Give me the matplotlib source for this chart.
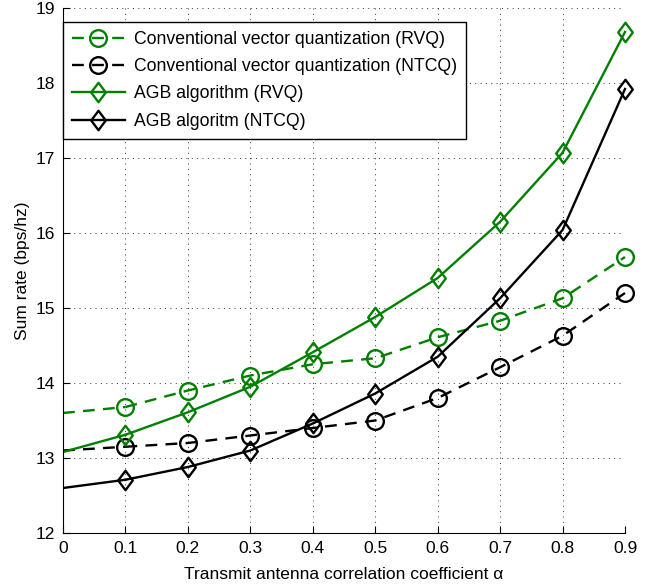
import matplotlib.pyplot as plt
import numpy as np
from matplotlib.path import Path

plt.rcParams['font.family'] = ['Liberation Sans', 'DejaVu Sans']

alpha = [0, 0.1, 0.2, 0.3, 0.4, 0.5, 0.6, 0.7, 0.8, 0.9]
conv_rvq = [13.6, 13.68, 13.9, 14.1, 14.25, 14.33, 14.61, 14.83, 15.13, 15.68]
conv_ntcq = [13.1, 13.15, 13.2, 13.3, 13.4, 13.5, 13.8, 14.21, 14.63, 15.2]
agb_rvq = [13.08, 13.31, 13.61, 13.95, 14.41, 14.88, 15.4, 16.15, 17.07, 18.68]
agb_ntcq = [12.6, 12.71, 12.88, 13.1, 13.46, 13.86, 14.35, 15.13, 16.04, 17.92]

labels = ["Conventional vector quantization (RVQ)",
          "Conventional vector quantization (NTCQ)",
          "AGB algorithm (RVQ)",
          "AGB algoritm (NTCQ)"]

green = '#008000'
lw = 1.7
# wider diamond than matplotlib's 'd'
diamond = Path([(0, 1), (0.75, 0), (0, -1), (-0.75, 0), (0, 1)],
               [Path.MOVETO, Path.LINETO, Path.LINETO, Path.LINETO, Path.CLOSEPOLY])

fig = plt.figure(figsize=(6.55, 5.88), dpi=100)
ax = fig.add_axes([63/655, 55/588, 562/655, 525/588])

dash = (0, (5, 3.5))
ax.plot(alpha[1:], conv_rvq[1:], color=green, ls=dash, lw=lw, marker='o', ms=12,
        mfc='none', mew=lw, clip_on=False, label=labels[0])
ax.plot(alpha[1:], conv_ntcq[1:], color='black', ls=dash, lw=lw, marker='o', ms=12,
        mfc='none', mew=lw, clip_on=False, label=labels[1])
ax.plot(alpha[1:], agb_rvq[1:], color=green, lw=lw, marker=diamond, ms=14,
        mfc='none', mew=lw, clip_on=False, label=labels[2])
ax.plot(alpha[1:], agb_ntcq[1:], color='black', lw=lw, marker=diamond, ms=14,
        mfc='none', mew=lw, clip_on=False, label=labels[3])

# first segment (alpha = 0) has no marker
ax.plot(alpha[:2], conv_rvq[:2], color=green, ls=dash, lw=lw)
ax.plot(alpha[:2], conv_ntcq[:2], color='black', ls=dash, lw=lw)
ax.plot(alpha[:2], agb_rvq[:2], color=green, lw=lw)
ax.plot(alpha[:2], agb_ntcq[:2], color='black', lw=lw)

ax.set_xlim(0, 0.9)
ax.set_ylim(12, 19)
ax.set_xticks(alpha)
ax.set_xticklabels(['0'] + ['%.1f' % a for a in alpha[1:]])
ax.set_yticks(np.arange(12, 20, 1))

ax.grid(True, color='#333333', ls=(0, (1, 4.5)), lw=0.7)
ax.spines['top'].set_visible(False)
ax.spines['right'].set_visible(False)
ax.tick_params(direction='in', length=5, labelsize=12.5, pad=6)

ax.set_xlabel("Transmit antenna correlation coefficient \u03b1", fontsize=12.5, labelpad=8)
ax.set_ylabel("Sum rate (bps/hz)", fontsize=12.5, labelpad=4)

leg = ax.legend(loc='upper left', bbox_to_anchor=(0, 0.973), borderaxespad=0,
                fontsize=12.7, fancybox=False, framealpha=1, edgecolor='black',
                labelspacing=0.58, handlelength=3.0, handletextpad=0.5,
                borderpad=0.5)
leg.get_frame().set_linewidth(1)

fig.savefig('out.png', dpi=100)
